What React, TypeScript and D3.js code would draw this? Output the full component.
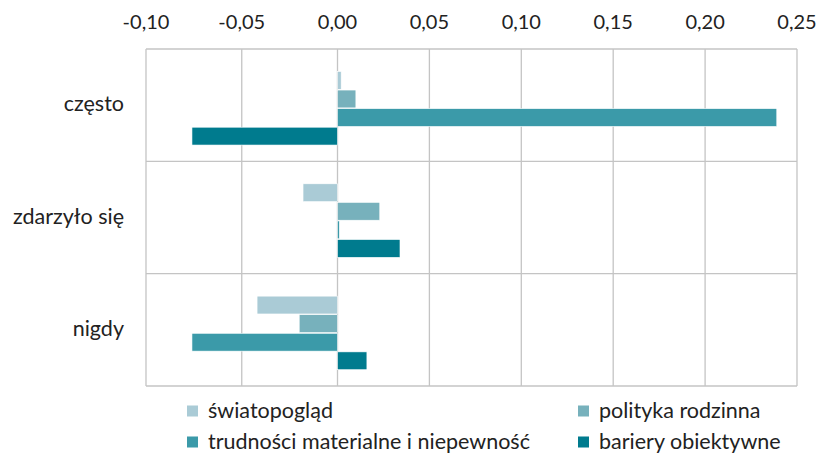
import React, { useEffect, useRef } from 'react';
import * as d3 from 'd3';

const categories = ['często', 'zdarzyło się', 'nigdy'];
const series = ['światopogląd', 'polityka rodzinna', 'trudności materialne i niepewność', 'bariery obiektywne'];
const colors = ['#aacbd6', '#77b1bc', '#3b9aa9', '#007b8e'];
// values per series, in order of categories
const swiatopoglad = [0.002, -0.018, -0.042];
const polityka = [0.01, 0.023, -0.02];
const trudnosci = [0.239, 0.001, -0.076];
const bariery = [-0.076, 0.034, 0.016];
const tickValues = [-0.1, -0.05, 0, 0.05, 0.1, 0.15, 0.2, 0.25];

const FONT = 'Lato, "Open Sans", sans-serif';

export default function App() {
  const ref = useRef<SVGSVGElement>(null);

  useEffect(() => {
    const width = 840;
    const height = 457;
    const margin = { top: 49, right: 43, bottom: 71, left: 146 };
    const values = [swiatopoglad, polityka, trudnosci, bariery];

    const svg = d3.select(ref.current);
    svg.selectAll('*').remove();

    // the original chart is slightly stretched: the zero line sits a bit right of linear
    const x = d3.scaleLinear()
      .domain([-0.1, 0, 0.25])
      .range([margin.left, 337.5, width - margin.right]);

    const y0 = d3.scaleBand()
      .domain(categories)
      .range([margin.top, height - margin.bottom])
      .padding(0);

    const bw = y0.bandwidth();
    const y1 = d3.scaleBand()
      .domain(series)
      .range([bw * 0.2, bw * 0.855])
      .paddingInner(0.04);

    // grid lines
    svg.append('g')
      .selectAll('line')
      .data(tickValues)
      .join('line')
      .attr('x1', d => x(d))
      .attr('x2', d => x(d))
      .attr('y1', margin.top)
      .attr('y2', height - margin.bottom)
      .attr('stroke', '#c4c4c4')
      .attr('stroke-width', 1.3);

    // category separators + frame
    svg.append('g')
      .selectAll('line')
      .data([...categories.map(c => y0(c) as number), height - margin.bottom])
      .join('line')
      .attr('x1', margin.left)
      .attr('x2', width - margin.right)
      .attr('y1', d => d)
      .attr('y2', d => d)
      .attr('stroke', '#c4c4c4')
      .attr('stroke-width', 1.3);

    // bars
    const groups = svg.append('g')
      .selectAll('g')
      .data(categories)
      .join('g')
      .attr('transform', c => `translate(0,${y0(c)})`);

    groups.selectAll('rect')
      .data((c, ci) => series.map((s, si) => ({ s, si, v: values[si][ci] })))
      .join('rect')
      .attr('x', d => Math.min(x(0), x(d.v)))
      .attr('width', d => Math.max(1, Math.abs(x(d.v) - x(0))))
      .attr('y', d => y1(d.s) as number)
      .attr('height', y1.bandwidth())
      .attr('fill', d => colors[d.si])
      .attr('stroke', '#ffffff')
      .attr('stroke-width', 0.6);

    // top axis labels
    svg.append('g')
      .selectAll('text')
      .data(tickValues)
      .join('text')
      .attr('x', d => x(d))
      .attr('y', 29)
      .attr('text-anchor', 'middle')
      .attr('font-family', FONT)
      .attr('font-size', 20)
      .attr('fill', '#222')
      .text(d => d3.format('.2f')(d).replace('.', ',').replace('−', '-'));

    // category labels
    svg.append('g')
      .selectAll('text')
      .data(categories)
      .join('text')
      .attr('x', 124)
      .attr('y', c => (y0(c) as number) + bw / 2 + 6)
      .attr('text-anchor', 'end')
      .attr('font-family', FONT)
      .attr('font-size', 21.5)
      .attr('fill', '#222')
      .text(c => c);

    // legend
    const legendPos = [
      { x: 187, y: 411 },
      { x: 578, y: 411 },
      { x: 187, y: 442 },
      { x: 578, y: 442 }
    ];
    const legend = svg.append('g')
      .selectAll('g')
      .data(series)
      .join('g')
      .attr('transform', (d, i) => `translate(${legendPos[i].x},${legendPos[i].y})`);

    legend.append('rect')
      .attr('x', 0)
      .attr('y', -5.5)
      .attr('width', 11)
      .attr('height', 11)
      .attr('fill', (d, i) => colors[i]);

    legend.append('text')
      .attr('x', 21)
      .attr('y', 7)
      .attr('font-family', FONT)
      .attr('font-size', 21.5)
      .attr('fill', '#222')
      .text(d => d);
  }, []);

  return (
    <svg ref={ref} width={840} height={457} style={{ position: 'absolute', left: 0, top: 0 }} />
  );
}
